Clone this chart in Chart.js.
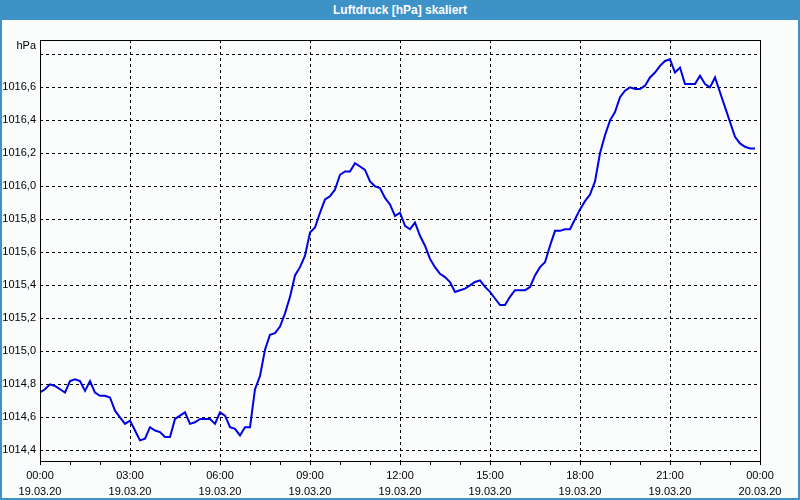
<!DOCTYPE html>
<html>
<head>
<meta charset="utf-8">
<script src="https://cdn.jsdelivr.net/npm/chart.js@4.4.1/dist/chart.umd.min.js"></script>
<style>
    body { margin: 0; }
    #rahmen { position: relative; width: 800px; height: 500px; background: #fafdfc; overflow: hidden; }
    #chartLuftdruck { position: absolute; left: 0; top: 0; }
    #titel {
        position: absolute; left: 0; top: 0; width: 800px; height: 20px;
        background: #3d92c8; color: #fff; text-align: center;
        font: bold 12px "Liberation Sans", Arial, sans-serif; line-height: 20px;
    }
    #kante {
        position: absolute; left: 0; top: 0; width: 800px; height: 500px;
        box-sizing: border-box; border: 2px solid #3d92c8; border-top: none; pointer-events: none;
    }
</style>
</head>
<body>
<div id="rahmen">
    <canvas id="chartLuftdruck" width="800" height="500"></canvas>
    <div id="titel">Luftdruck [hPa] skaliert</div>
    <div id="kante"></div>
</div>
<script>
// Messwerte alle 10 Minuten ab 19.03.20 00:00
const intervallMinuten = 10;
const luftdruck = [
    1014.75, 1014.77, 1014.80, 1014.79, 1014.77, 1014.75, 1014.82, 1014.83, 1014.82, 1014.76,
    1014.82, 1014.75, 1014.73, 1014.73, 1014.72, 1014.64, 1014.60, 1014.56, 1014.58, 1014.52,
    1014.46, 1014.47, 1014.54, 1014.52, 1014.51, 1014.48, 1014.48, 1014.59, 1014.61, 1014.63,
    1014.56, 1014.57, 1014.59, 1014.59, 1014.59, 1014.56, 1014.63, 1014.61, 1014.54, 1014.53,
    1014.49, 1014.54, 1014.54, 1014.77, 1014.85, 1015.01, 1015.10, 1015.11, 1015.15, 1015.23,
    1015.33, 1015.46, 1015.51, 1015.58, 1015.72, 1015.75, 1015.84, 1015.92, 1015.94, 1015.98,
    1016.07, 1016.09, 1016.09, 1016.14, 1016.12, 1016.10, 1016.03, 1016.00, 1015.99, 1015.93,
    1015.89, 1015.82, 1015.84, 1015.76, 1015.74, 1015.78, 1015.70, 1015.64, 1015.56, 1015.51,
    1015.47, 1015.45, 1015.42, 1015.36, 1015.37, 1015.38, 1015.40, 1015.42, 1015.43, 1015.39,
    1015.36, 1015.32, 1015.28, 1015.28, 1015.33, 1015.37, 1015.37, 1015.37, 1015.39, 1015.46,
    1015.51, 1015.54, 1015.64, 1015.73, 1015.73, 1015.74, 1015.74, 1015.80, 1015.86, 1015.91,
    1015.95, 1016.03, 1016.20, 1016.31, 1016.40, 1016.45, 1016.54, 1016.58, 1016.60, 1016.59,
    1016.59, 1016.61, 1016.66, 1016.69, 1016.73, 1016.76, 1016.77, 1016.69, 1016.72, 1016.62,
    1016.62, 1016.62, 1016.67, 1016.62, 1016.60, 1016.66, 1016.57, 1016.48, 1016.39, 1016.30,
    1016.26, 1016.24, 1016.23, 1016.23
];

// Achsenbeschriftungen
const yTicks = [1014.4, 1014.6, 1014.8, 1015.0, 1015.2, 1015.4, 1015.6, 1015.8, 1016.0, 1016.2, 1016.4, 1016.6, 1016.8];
const yMin = 1014.335;
const yMax = 1016.887;
const xZeiten = ['00:00', '03:00', '06:00', '09:00', '12:00', '15:00', '18:00', '21:00', '00:00'];
const xDaten = ['19.03.20', '19.03.20', '19.03.20', '19.03.20', '19.03.20', '19.03.20', '19.03.20', '19.03.20', '20.03.20'];

const schrift = { family: '"Liberation Sans", Arial, sans-serif', size: 11 };

const punkte = luftdruck.map((v, i) => ({ x: i * intervallMinuten / 60, y: v }));

// Rahmen um die Zeichenfläche und Einheit oben links
const rahmenPlugin = {
    id: 'rahmenPlugin',
    afterDraw(chart) {
        const { ctx, chartArea: a } = chart;
        ctx.save();
        ctx.strokeStyle = '#000';
        ctx.lineWidth = 1;
        ctx.setLineDash([]);
        ctx.strokeRect(a.left + 0.5, a.top + 0.5, a.right - a.left, a.bottom - a.top);
        ctx.fillStyle = '#000';
        ctx.font = '11px ' + schrift.family;
        ctx.textAlign = 'right';
        ctx.textBaseline = 'middle';
        ctx.fillText('hPa', a.left - 4, a.top + 6);
        ctx.restore();
    }
};

new Chart(document.getElementById('chartLuftdruck'), {
    type: 'line',
    data: {
        datasets: [{
            label: 'Luftdruck',
            data: punkte,
            borderColor: '#0000e6',
            borderWidth: 2,
            pointRadius: 0,
            tension: 0,
            fill: false
        }]
    },
    options: {
        responsive: false,
        animation: false,
        layout: { padding: { left: 0, top: 40, right: 40, bottom: 0 } },
        plugins: { legend: { display: false }, tooltip: { enabled: false } },
        scales: {
            x: {
                type: 'linear',
                min: 0,
                max: 24,
                afterFit: s => { s.height = 39; },
                border: { display: false, dash: [3, 3] },
                grid: {
                    color: c => (c.tick && c.tick.value % 3 === 0) ? '#000' : 'rgba(0,0,0,0)',
                    tickColor: '#000',
                    tickBorderDash: [],
                    tickLength: 4,
                    lineWidth: 1
                },
                ticks: {
                    stepSize: 1,
                    autoSkip: false,
                    maxRotation: 0,
                    padding: 3,
                    color: '#000',
                    font: { ...schrift, lineHeight: 1.45 },
                    callback: v => (v % 3 === 0) ? [xZeiten[v / 3], xDaten[v / 3]] : ''
                }
            },
            y: {
                min: yMin,
                max: yMax,
                afterFit: s => { s.width = 40; },
                afterBuildTicks: s => { s.ticks = yTicks.map(v => ({ value: v })); },
                border: { display: false, dash: [3, 3] },
                grid: { color: '#000', drawTicks: false, lineWidth: 1 },
                ticks: {
                    padding: 4,
                    color: '#000',
                    font: schrift,
                    callback: v => v > 1016.7 ? '' : v.toFixed(1).replace('.', ',')
                }
            }
        }
    },
    plugins: [rahmenPlugin]
});
</script>
</body>
</html>
